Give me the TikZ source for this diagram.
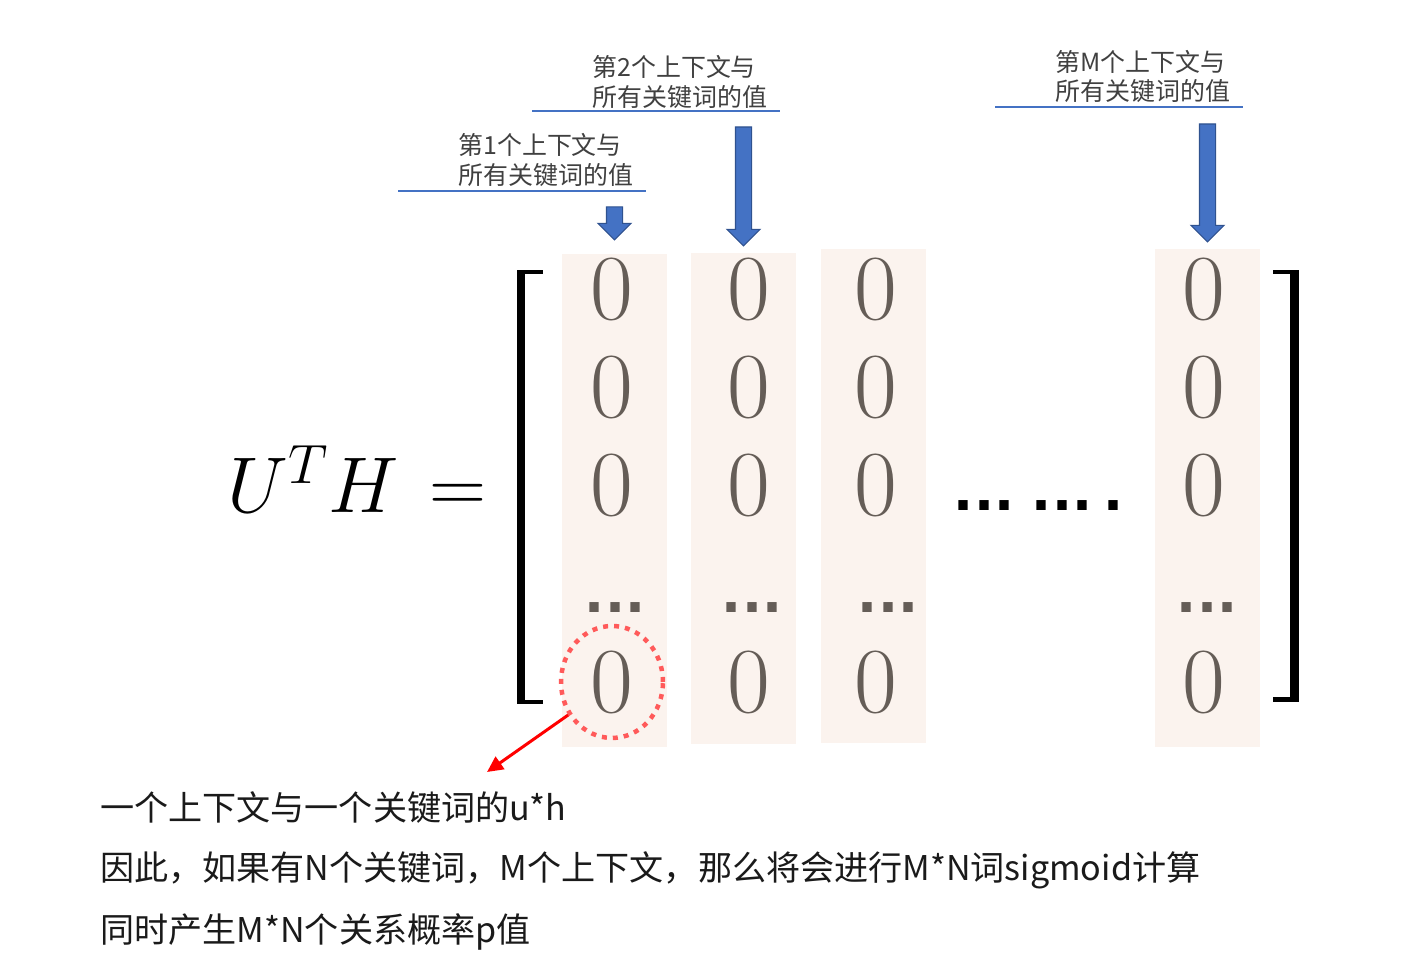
\RequirePackage{fix-cm}
\documentclass[tikz,border=0pt]{standalone}
\usepackage{fontspec}
\newfontfamily\cjk{Noto Sans CJK SC}
\newfontfamily\dotfont{DejaVu Sans}
\usetikzlibrary{arrows.meta,shapes.arrows,shapes.geometric}
\definecolor{peach}{HTML}{FBF3EE}
\definecolor{zerogray}{HTML}{655D57}
\definecolor{labelgray}{HTML}{404040}
\definecolor{notetext}{HTML}{1A1A1A}
\definecolor{lineblue}{HTML}{4472C4}
\definecolor{arrowblue}{HTML}{4472C4}
\definecolor{arrowedge}{HTML}{2F528F}
\definecolor{circred}{HTML}{FF5A5A}

\begin{document}
\begin{tikzpicture}[x=0.02cm, y=-0.02cm,
  colbox/.style={fill=peach, minimum width=2.1cm, inner sep=0},
  zero/.style={text=zerogray, font=\fontsize{53}{53}\selectfont, anchor=base, inner sep=0},
  coldots/.style={text=zerogray, font=\dotfont\bfseries\fontsize{30}{30}\selectfont, anchor=base, inner sep=0},
  rowdots/.style={text=black, font=\dotfont\bfseries\fontsize{30}{30}\selectfont, anchor=base, inner sep=0},
  ctxlabel/.style={font=\cjk\fontsize{14.2}{17}\selectfont, text=labelgray, align=left, anchor=west, inner sep=0},
  uline/.style={draw=lineblue, line width=0.03cm},
  blockarrow/.style={single arrow, draw=arrowedge, fill=arrowblue, line width=0.6pt, rotate=-90,
                     inner sep=0.15cm, single arrow head extend=0.17cm, anchor=tip},
  note/.style={font=\cjk\fontsize{19.4}{19.4}\selectfont, text=notetext, anchor=west, inner sep=0},
  pick/.style={ellipse, draw=circred, line width=0.09cm, dash pattern=on 0.1cm off 0.12cm,
               minimum width=2.04cm, minimum height=2.24cm, inner sep=0},
  pointer/.style={-{Triangle[length=0.32cm, width=0.3cm]}, draw=red, line width=0.06cm},
]
\useasboundingbox (0,0) rectangle (1426,970);

\node[colbox, minimum height=9.86cm] (c1) at (614.5,500.5) {};
\node[colbox, minimum height=9.82cm] (c2) at (743.5,498.5) {};
\node[colbox, minimum height=9.88cm] (c3) at (873.5,496) {};
\node[colbox, minimum height=9.96cm] (cm) at (1207.5,498) {};

\foreach \cx/\cn in {612/1, 749/2, 876/3, 1204/m}
  \foreach \by/\rn in {319/1, 417/2, 515/3, 712/5}
    \node[zero] (z\cn\rn) at (\cx,\by) {0};
\foreach \dx/\cn in {615/1, 752/2, 888/3, 1207/m}
  \node[coldots] (d\cn) at (\dx,612) {...};

\node[rowdots] (gap1) at (984,510) {...};
\node[rowdots] (gap2) at (1062,510) {...};
\node[rowdots] (gap3) at (1113,510) {.};

\fill (517,270) rectangle (525,704);
\fill (517,270) rectangle (543,274);
\fill (517,700) rectangle (543,704);
\fill (1290,270) rectangle (1299,702);
\fill (1273,270) rectangle (1299,274);
\fill (1273,697) rectangle (1299,702);

\node[anchor=base east, inner sep=0, font=\fontsize{45}{45}\selectfont] (uth) at (487,512) {$U^{T}H\mskip2mu=$};

\node[ctxlabel] (ctx1) at (458,160) {第1个上下文与\\所有关键词的值};
\draw[uline] (398,191) -- (646,191);
\node[ctxlabel] (ctx2) at (592,82) {第2个上下文与\\所有关键词的值};
\draw[uline] (532,111) -- (780,111);
\node[ctxlabel] (ctxm) at (1055,76.5) {第M个上下文与\\所有关键词的值};
\draw[uline] (995,107) -- (1243,107);

\node[blockarrow, minimum height=0.66cm] (a1) at ([yshift=0.26cm]c1.north) {};
\node[blockarrow, minimum height=2.38cm] (a2) at ([yshift=0.12cm]c2.north) {};
\node[blockarrow, minimum height=2.36cm] (am) at ([yshift=0.12cm]cm.north) {};

\node[pick] (hit) at (z15) {};
\coordinate (pend) at (487,772);
\draw[pointer] (hit.217) -- (pend);

\node[note] (n1) at (100,808) {一个上下文与一个关键词的u*h};
\node[note] (n2) at (100,870) {因此，如果有N个关键词，M个上下文，那么将会进行M*N词sigmoid计算};
\node[note] (n3) at (100,932) {同时产生M*N个关系概率p值};

\end{tikzpicture}
\end{document}
